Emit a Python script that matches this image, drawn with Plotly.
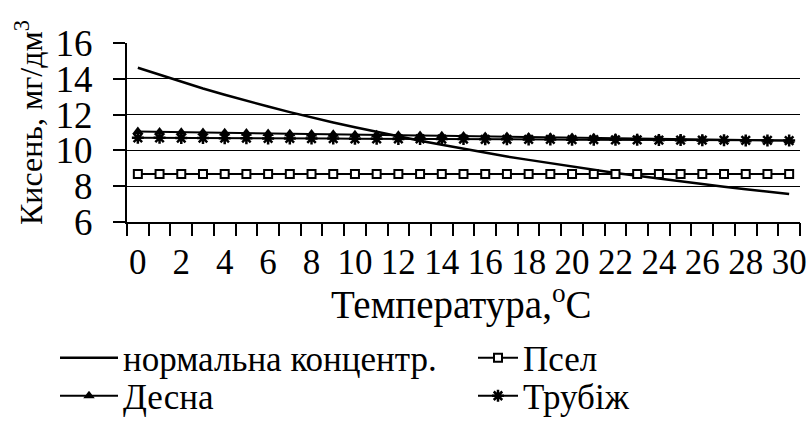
import plotly.graph_objects as go

# Temperature categories, °C
temps = list(range(0, 31))
tick_labels = [str(t) for t in range(0, 31, 2)]

# Dissolved oxygen, mg/dm3
normal_conc = [14.62, 14.22, 13.83, 13.46, 13.11, 12.77, 12.45, 12.14, 11.84, 11.56,
               11.29, 11.03, 10.78, 10.54, 10.31, 10.08, 9.87, 9.66, 9.47, 9.28,
               9.09, 8.91, 8.74, 8.58, 8.42, 8.26, 8.11, 7.97, 7.83, 7.69, 7.56]
psel = [8.68] * 31
desna = [11.05, 11.03, 11.02, 11.00, 10.98, 10.97, 10.95, 10.93, 10.92, 10.90,
         10.88, 10.87, 10.85, 10.83, 10.82, 10.80, 10.78, 10.77, 10.75, 10.73,
         10.72, 10.70, 10.68, 10.67, 10.65, 10.63, 10.62, 10.60, 10.58, 10.57, 10.55]
trubizh = [10.70, 10.70, 10.69, 10.69, 10.68, 10.68, 10.67, 10.67, 10.66, 10.66,
           10.65, 10.65, 10.64, 10.64, 10.63, 10.63, 10.62, 10.62, 10.61, 10.61,
           10.60, 10.60, 10.59, 10.59, 10.58, 10.58, 10.57, 10.57, 10.56, 10.56, 10.55]

x_title = "Температура,<sup>o</sup>C"
y_title = "Кисень, мг/дм<sup>3</sup>"

FONT = "Liberation Serif"
W, H = 810, 424
M_L, M_R, M_T, M_B = 127, 10, 43, 202
PLOT_W, PLOT_H = W - M_L - M_R, H - M_T - M_B

fig = go.Figure()
fig.add_trace(go.Scatter(x=temps, y=normal_conc, mode="lines", name="нормальна концентр.",
                         line=dict(color="black", width=2.5), legend="legend"))
fig.add_trace(go.Scatter(x=temps, y=psel, mode="lines+markers", name="Псел",
                         line=dict(color="black", width=2),
                         marker=dict(symbol="square", size=8, color="white",
                                     line=dict(color="black", width=2)),
                         legend="legend2"))
fig.add_trace(go.Scatter(x=temps, y=desna, mode="lines+markers", name="Десна",
                         line=dict(color="black", width=2),
                         marker=dict(symbol="triangle-up", size=10, color="black"),
                         legend="legend3"))
fig.add_trace(go.Scatter(x=temps, y=trubizh, mode="lines+markers", name="Трубіж",
                         line=dict(color="black", width=2),
                         marker=dict(symbol="asterisk-open", size=10,
                                     line=dict(color="black", width=2.5)),
                         legend="legend4"))

# invisible trace on the second x axis so that its boundary tick marks are drawn
fig.add_trace(go.Scatter(x=[-0.5, 30.5], y=[6, 6], xaxis="x2", mode="lines",
                         line=dict(width=0), showlegend=False, hoverinfo="skip"))


def legend_box(px, py, item_w):
    # one legend entry, placed in page pixels
    return dict(orientation="v", xref="container", yref="container",
                x=px / W, y=1 - py / H, xanchor="left", yanchor="middle",
                font=dict(size=35, family=FONT, color="black"), itemwidth=item_w,
                bgcolor="rgba(0,0,0,0)", borderwidth=0)


def paper_x(px):
    return (px - M_L) / PLOT_W


def paper_y(py):
    return (H - M_B - py) / PLOT_H


fig.update_layout(
    width=W, height=H,
    margin=dict(l=M_L, r=M_R, t=M_T, b=M_B, autoexpand=False),
    paper_bgcolor="white", plot_bgcolor="white",
    font=dict(family=FONT, color="black", size=32),
    showlegend=True,
    legend=legend_box(55, 358, 58),
    legend2=legend_box(473, 358, 40),
    legend3=legend_box(55, 396, 58),
    legend4=legend_box(473, 396, 40),
    xaxis=dict(range=[-0.5, 30.5], tickvals=list(range(0, 31, 2)), ticktext=tick_labels,
               ticks="", showgrid=False, zeroline=False,
               showline=True, linecolor="black", linewidth=2,
               tickfont=dict(size=35, family=FONT), ticklabelstandoff=8),
    xaxis2=dict(range=[-0.5, 30.5], overlaying="x", side="bottom",
                tickvals=[i - 0.5 for i in range(0, 32)], ticks="outside", ticklen=13,
                tickwidth=2, tickcolor="black", showticklabels=False,
                showgrid=False, zeroline=False, showline=False),
    yaxis=dict(range=[6, 16], dtick=2, tick0=6, ticks="outside", ticklen=12,
               tickwidth=2, tickcolor="black",
               showgrid=True, gridcolor="black", gridwidth=1, zeroline=False,
               showline=True, linecolor="black", linewidth=2,
               tickfont=dict(size=37, family=FONT), ticklabelstandoff=13),
    annotations=[
        dict(text=x_title, xref="paper", yref="paper", x=paper_x(461), y=paper_y(302),
             xanchor="center", yanchor="middle", showarrow=False,
             font=dict(size=39, family=FONT, color="black")),
        dict(text=y_title, xref="paper", yref="paper", x=paper_x(29), y=paper_y(123),
             xanchor="center", yanchor="middle", showarrow=False, textangle=-90,
             font=dict(size=32, family=FONT, color="black")),
    ],
)

fig.write_html("out.html")
